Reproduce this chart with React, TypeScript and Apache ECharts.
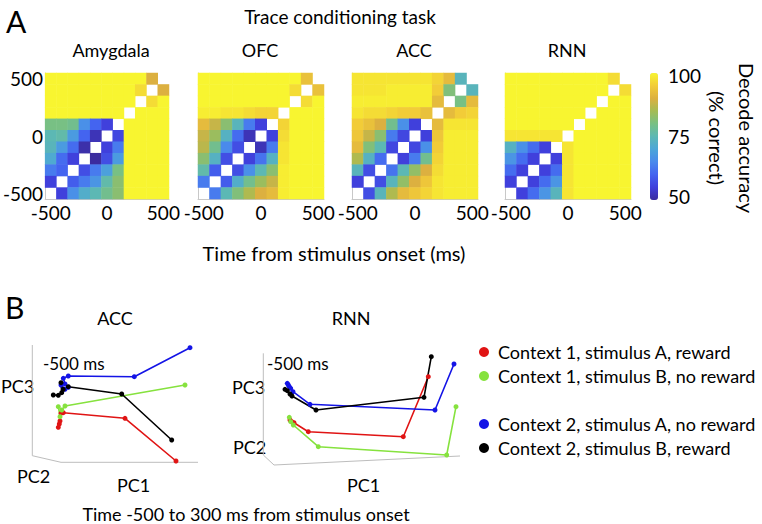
import React, { useEffect, useRef } from "react";
import * as echarts from "echarts";

const timeLabels = ["-500", "-400", "-300", "-200", "-100", "0", "100", "200", "300", "400", "500"];
const regionTitles = ["Amygdala", "OFC", "ACC", "RNN"];
const N = null;

// rows listed from top (500 ms) to bottom (-500 ms); columns -500 .. 500 ms
const amygdala = [
  [100, 100, 100, 100, 100, 100, 100, 100, 100, 90, N],
  [100, 100, 100, 100, 100, 100, 100, 100, 97, N, 90],
  [100, 100, 100, 100, 100, 100, 100, 100, N, 97, 100],
  [100, 100, 100, 100, 100, 100, 100, N, 100, 100, 100],
  [80, 80, 79, 66, 60, 55, N, 100, 100, 100, 100],
  [75, 76, 68, 60, 52, N, 56, 100, 100, 100, 100],
  [74, 68, 61, 51, N, 55, 63, 100, 100, 100, 100],
  [71, 61, 55, N, 50, 57, 68, 100, 100, 100, 100],
  [63, 60, N, 57, 63, 69, 80, 100, 100, 100, 100],
  [55, N, 59, 63, 67, 76, 82, 100, 100, 100, 100],
  [N, 55, 66, 72, 75, 79, 82, 100, 100, 100, 100],
];
const ofc = [
  [100, 100, 100, 100, 100, 100, 100, 100, 100, 93, N],
  [100, 100, 100, 100, 100, 100, 100, 100, 97, N, 93],
  [100, 100, 100, 100, 100, 100, 100, 100, N, 97, 100],
  [99, 99, 98, 98, 97, 96, 96, N, 100, 100, 100],
  [92, 88, 82, 74, 63, 55, N, 96, 100, 100, 100],
  [88, 84, 73, 61, 52, N, 55, 97, 100, 100, 100],
  [87, 79, 65, 57, N, 52, 63, 98, 100, 100, 100],
  [82, 73, 57, N, 55, 62, 73, 98, 100, 100, 100],
  [76, 59, N, 57, 66, 75, 82, 99, 100, 100, 100],
  [63, N, 59, 72, 79, 84, 88, 99, 100, 100, 100],
  [N, 63, 75, 81, 86, 90, 92, 99, 100, 100, 100],
];
const acc = [
  [98, 98, 98, 98, 98, 98, 98, 96, 92, 74, N],
  [98, 98, 98, 99, 99, 99, 99, 95, 81, N, 74],
  [99, 99, 99, 99, 99, 99, 99, 92, N, 80, 92],
  [98, 97, 97, 96, 95, 95, 93, N, 92, 95, 96],
  [95, 93, 90, 79, 66, 55, N, 92, 98, 98, 98],
  [94, 88, 82, 63, 56, N, 55, 94, 99, 99, 99],
  [92, 81, 75, 56, N, 56, 66, 95, 99, 99, 99],
  [86, 73, 61, N, 55, 63, 79, 96, 99, 99, 99],
  [74, 57, N, 62, 75, 83, 90, 97, 99, 99, 99],
  [55, N, 57, 74, 83, 90, 94, 98, 99, 99, 99],
  [N, 57, 74, 86, 92, 94, 96, 98, 99, 99, 99],
];
const rnn = [
  [100, 100, 100, 100, 100, 100, 100, 100, 100, 97, N],
  [100, 100, 100, 100, 100, 100, 100, 100, 100, N, 97],
  [100, 100, 100, 100, 100, 100, 100, 100, N, 100, 100],
  [100, 100, 100, 100, 100, 100, 100, N, 100, 100, 100],
  [100, 100, 100, 100, 100, 100, N, 100, 100, 100, 100],
  [98, 98, 98, 98, 98, N, 100, 100, 100, 100, 100],
  [73, 66, 61, 55, N, 98, 100, 100, 100, 100, 100],
  [67, 61, 55, N, 55, 98, 100, 100, 100, 100, 100],
  [61, 55, N, 55, 61, 98, 100, 100, 100, 100, 100],
  [55, N, 55, 61, 67, 98, 100, 100, 100, 100, 100],
  [N, 55, 61, 67, 74, 98, 100, 100, 100, 100, 100],
];
const matrices = [amygdala, ofc, acc, rnn];

const colorbarTicks = ["100", "75", "50"];

const legendNames = [
  "Context 1, stimulus A, reward",
  "Context 1, stimulus B, no reward",
  "Context 2, stimulus A, no reward",
  "Context 2, stimulus B, reward",
];
const trajColors = ["#e01414", "#86e23e", "#1414e6", "#000000"];

// 2D projections of PC trajectories (ACC panel units)
const accRed = [[28.3, 42.7], [29.3, 46], [30, 49], [31, 56.7], [33.3, 57.3], [95, 51.7], [146, 9]];
const accGreen = [[28.3, 63.3], [30, 53.3], [31.7, 60], [35, 64], [155, 85]];
const accBlue = [[31, 85], [35, 80.7], [38.3, 82.7], [35, 86], [33.3, 91.7], [38.3, 94], [104.3, 93.3], [160, 122.3]];
const accBlack = [[23.3, 75], [28.3, 74.7], [31.7, 77.3], [31, 87.3], [33.3, 80.7], [38.3, 83.3], [91.7, 76], [141.7, 30]];
const accBox = [[2.3, 125], [2.3, 14.3], [31, 7.7], [168, 7.7]];

// RNN panel units
const rnnRed = [[50, 50], [51.7, 48.3], [54, 47.3], [68.3, 38.3], [163.3, 33.3], [188.3, 93.3]];
const rnnGreen = [[49.3, 52.7], [50.7, 48.3], [53.3, 45], [78.3, 23.3], [206.7, 15], [216, 63.3]];
const rnnBlue = [[47.3, 86.7], [48.3, 85], [49.3, 83.3], [50.7, 81.7], [53, 78.3], [70, 65.7], [195, 60], [214, 106]];
const rnnBlack = [[45, 80.7], [47.3, 79.3], [50, 76], [52, 74], [76, 60], [184, 72.7], [191.3, 113.3]];
const rnnBox = [[23.3, 116.7], [23.3, 15], [34, 5], [220, 14]];

const parula = [
  "#3b2c9e", "#4040dc", "#4464f0", "#4a8aec", "#4ca6d8", "#5cb8b4",
  "#78c084", "#a4bc54", "#dcb040", "#f2cc38", "#f8f530",
];

const FONT = "Lato";

function heatData(m: (number | null)[][]) {
  const out: any[] = [];
  m.forEach((row, r) => {
    row.forEach((v, c) => {
      if (v !== null) out.push([c, 10 - r, v]);
    });
  });
  return out;
}

function txt(text: string, x: number, y: number, size: number, align = "left", extra: any = {}) {
  return {
    type: "text",
    x,
    y,
    silent: true,
    ...extra,
    style: {
      text,
      fill: "#000",
      fontSize: size,
      fontFamily: FONT,
      textAlign: align,
      textVerticalAlign: "middle",
    },
  };
}

export default function App() {
  const ref = useRef<HTMLDivElement>(null);
  useEffect(() => {
    if (!ref.current) return;
    const chart = echarts.init(ref.current, undefined, { renderer: "svg" });
    const lefts = [43, 198, 352, 505];
    const grids: any[] = lefts.map((l) => ({ left: l, top: 73, width: 126, height: 126 }));
    grids.push({ left: 30, top: 340, width: 180, height: 130 });
    grids.push({ left: 240, top: 340, width: 230, height: 130 });

    const xAxes: any[] = lefts.map((_, i) => ({
      type: "category",
      gridIndex: i,
      data: timeLabels,
      axisLine: { lineStyle: { color: "#c8c8c8" } },
      axisTick: { alignWithLabel: true, interval: 4, length: 2, lineStyle: { color: "#999" } },
      axisLabel: { interval: 4, fontSize: 19, color: "#000", margin: 4, fontFamily: FONT },
      splitLine: { show: false },
    }));
    const yAxes: any[] = lefts.map((_, i) => ({
      type: "category",
      gridIndex: i,
      data: timeLabels,
      axisLine: { lineStyle: { color: "#c8c8c8" } },
      axisTick: { alignWithLabel: true, interval: 4, length: 2, lineStyle: { color: "#999" } },
      axisLabel: { show: i === 0, interval: 4, fontSize: 19, color: "#000", margin: 2, fontFamily: FONT },
      splitLine: { show: false },
    }));
    xAxes.push({ type: "value", gridIndex: 4, min: 0, max: 180, show: false });
    yAxes.push({ type: "value", gridIndex: 4, min: 0, max: 130, show: false });
    xAxes.push({ type: "value", gridIndex: 5, min: 0, max: 230, show: false });
    yAxes.push({ type: "value", gridIndex: 5, min: 0, max: 130, show: false });

    const series: any[] = matrices.map((m, i) => ({
      type: "heatmap",
      xAxisIndex: i,
      yAxisIndex: i,
      data: heatData(m),
      itemStyle: { borderWidth: 0 },
      emphasis: { disabled: true },
      silent: true,
    }));

    const traj = (name: string, color: string, data: number[][], gi: number) => ({
      type: "line",
      name,
      xAxisIndex: gi,
      yAxisIndex: gi,
      data,
      symbol: "circle",
      symbolSize: 5,
      showSymbol: true,
      color,
      itemStyle: { color },
      lineStyle: { color, width: 1.6 },
      silent: true,
      z: 3,
    });
    const box = (data: number[][], gi: number) => ({
      type: "line",
      xAxisIndex: gi,
      yAxisIndex: gi,
      data,
      symbol: "none",
      lineStyle: { color: "#bdbdbd", width: 1 },
      silent: true,
      z: 1,
    });
    series.push(box(accBox, 4));
    series.push(traj(legendNames[0], trajColors[0], accRed, 4));
    series.push(traj(legendNames[1], trajColors[1], accGreen, 4));
    series.push(traj(legendNames[2], trajColors[2], accBlue, 4));
    series.push(traj(legendNames[3], trajColors[3], accBlack, 4));
    series.push(box(rnnBox, 5));
    series.push(traj(legendNames[0], trajColors[0], rnnRed, 5));
    series.push(traj(legendNames[1], trajColors[1], rnnGreen, 5));
    series.push(traj(legendNames[2], trajColors[2], rnnBlue, 5));
    series.push(traj(legendNames[3], trajColors[3], rnnBlack, 5));

    const legendBase = {
      orient: "vertical",
      left: 479,
      icon: "circle",
      itemWidth: 10,
      itemHeight: 10,
      itemGap: 6,
      padding: 0,
      selectedMode: false,
      textStyle: { fontSize: 18, lineHeight: 18, color: "#000", fontFamily: FONT, padding: [0, 0, 0, 4] },
    };

    const titleX = [111, 260, 414, 567];
    const graphic: any[] = [
      txt("A", 6, 21, 30),
      txt("Trace conditioning task", 340, 16, 19, "center"),
      ...regionTitles.map((t, i) => txt(t, titleX[i], 50, 18, "center")),
      txt("Time from stimulus onset (ms)", 334, 253, 20, "center"),
      txt(colorbarTicks[0], 668, 75, 19),
      txt(colorbarTicks[1], 668, 136, 19),
      txt(colorbarTicks[2], 668, 196, 19),
      txt("Decode accuracy", 747, 138, 20, "center", { rotation: -Math.PI / 2 }),
      txt("(% correct)", 717, 138, 20, "center", { rotation: -Math.PI / 2 }),
      txt("B", 5, 307, 30),
      txt("ACC", 115, 318, 18, "center"),
      txt("RNN", 351, 318, 18, "center"),
      txt("-500 ms", 43, 363, 17),
      txt("-500 ms", 267, 363, 17),
      txt("PC3", 1, 386, 18),
      txt("PC2", 17, 476, 18),
      txt("PC1", 117, 485, 18),
      txt("PC3", 232, 387, 18),
      txt("PC2", 233, 447, 18),
      txt("PC1", 347, 485, 18),
      txt("Time -500 to 300 ms from stimulus onset", 246, 514, 18, "center"),
    ];

    chart.setOption({
      animation: false,
      textStyle: { fontFamily: FONT },
      grid: grids,
      xAxis: xAxes,
      yAxis: yAxes,
      visualMap: {
        type: "continuous",
        min: 50,
        max: 100,
        seriesIndex: [0, 1, 2, 3],
        inRange: { color: parula },
        left: 650,
        top: 73,
        itemWidth: 8,
        itemHeight: 127,
        padding: 0,
        calculable: false,
        text: null,
        showLabel: false,
        hoverLink: false,
      },
      legend: [
        { ...legendBase, top: 343, data: [legendNames[0], legendNames[1]] },
        { ...legendBase, top: 415, data: [legendNames[2], legendNames[3]] },
      ],
      graphic,
      series,
    });
    return () => chart.dispose();
  }, []);
  return <div ref={ref} style={{ position: "fixed", left: 0, top: 0, width: 762, height: 524, background: "#fff" }} />;
}
